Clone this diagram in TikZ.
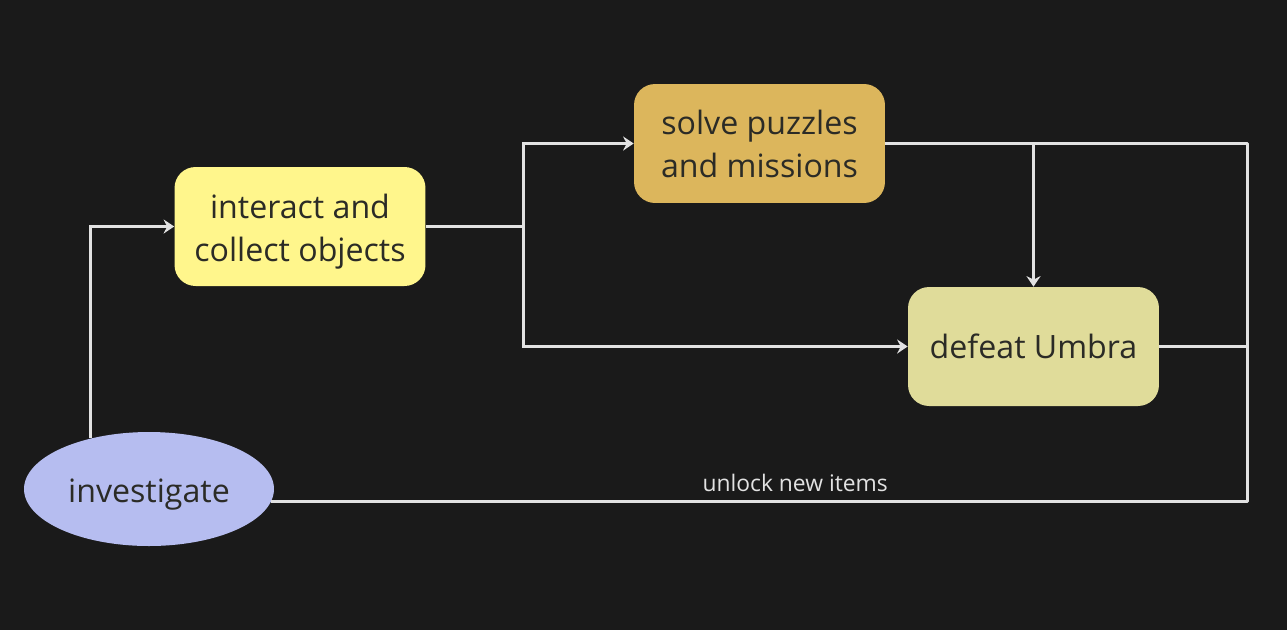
\documentclass[tikz,border=0pt]{standalone}
\usepackage{fontspec}
\setmainfont{Open Sans}
\usepackage{xcolor}
\usepackage{tikz}
\usetikzlibrary{shapes, arrows.meta, positioning, calc}

\definecolor{fundo}{HTML}{1A1A1A}
\definecolor{linha}{HTML}{E2E2E2}
\definecolor{texto}{HTML}{2B2B26}
\definecolor{amarelo}{HTML}{FFF68C}
\definecolor{ouro}{HTML}{DCB65C}
\definecolor{palha}{HTML}{E0DC9A}
\definecolor{lilas}{HTML}{B6BDF0}

% desce o texto sem mudar a caixa
\newcommand{\baixo}[1]{\raisebox{-2.8pt}[\height][\depth]{\begin{tabular}{@{}c@{}}#1\end{tabular}}}

\begin{document}
\begin{tikzpicture}[
        x=0.02cm, y=-0.02cm, % 1 unidade = 1 pixel da figura
        tarefa/.style={rectangle, rounded corners=0.42cm, align=center, minimum width=5.02cm, minimum height=2.38cm, text=texto, font=\fontsize{18.3}{24.5}\selectfont},
        inicio/.style={ellipse, minimum width=5cm, minimum height=2.28cm, fill=lilas, text=texto, inner sep=0pt, font=\fontsize{18.3}{24.5}\selectfont},
        rotulo/.style={text=linha, font=\fontsize{13}{15}\selectfont},
        fio/.style={draw=linha, line width=1.7pt},
        seta/.style={fio, -{Stealth[length=6pt, width=8pt, inset=2pt]}}
        ]
        \fill[fundo] (0,0) rectangle (1287,630);
        \useasboundingbox (0,0) rectangle (1287,630);

        % Caixas em posicao de pixel
        \node[tarefa, fill=amarelo] (interact) at (300, 226.5) {\baixo{interact and\\collect objects}};
        \node[tarefa, fill=ouro] (solve) at (759.5, 143.5) {solve puzzles\\and missions};
        \node[tarefa, fill=palha] (defeat) at (1033.5, 346.5) {defeat Umbra};
        \node[inicio] (inv) at (149, 489) {\baixo{investigate}};

        % Pontos de desvio
        \coordinate (split) at (523, 226.5);
        \coordinate (se) at (1247, 501);

        % Ligacoes
        \draw[seta] (inv.139) |- (interact.west);
        \draw[fio] (interact.east) -- (split);
        \draw[seta] (split) |- (solve.west);
        \draw[seta] (split) |- (defeat.west);
        \draw[seta] (solve.east -| defeat.north) -- (defeat.north);
        \draw[fio] (defeat.east) -- (defeat.east -| se);
        \draw[fio, line join=round] (solve.east) -| (se) -- node[rotulo, above, pos=0.463, inner sep=2pt, yshift=2.2pt] (unlock) {unlock new items} (inv.-6 |- se);

    \end{tikzpicture}
\end{document}
